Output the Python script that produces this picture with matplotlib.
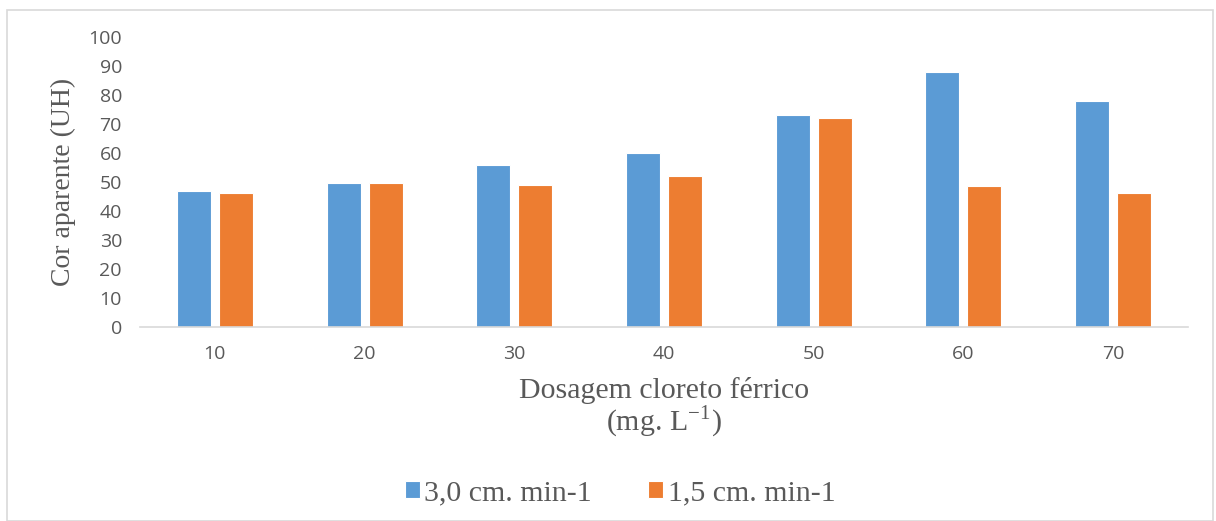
import matplotlib
matplotlib.use('Agg')
import matplotlib.pyplot as plt
import numpy as np

dosagem = [10, 20, 30, 40, 50, 60, 70]
vazao_30 = [47.0, 49.7, 55.7, 60.0, 73.2, 88.0, 78.0]
vazao_15 = [46.1, 49.7, 48.9, 52.2, 72.0, 48.5, 46.1]
series_labels = ['3,0 cm. min-1', '1,5 cm. min-1']

blue = '#5b9bd5'
orange = '#ed7d31'
grey_txt = '#595959'

plt.rcParams['mathtext.fontset'] = 'stix'

fig = plt.figure(figsize=(12.16, 5.21), dpi=100)
ax = fig.add_axes([140 / 1216, 1 - 327 / 521, 1048 / 1216, 290 / 521])

x = np.arange(len(dosagem))
w = 0.227
gap = 0.053
ax.bar(x - (w + gap) / 2, vazao_30, w, color=blue, edgecolor='white', linewidth=0.8, label=series_labels[0])
ax.bar(x + (w + gap) / 2, vazao_15, w, color=orange, edgecolor='white', linewidth=0.8, label=series_labels[1])

ax.set_xlim(-0.5, len(dosagem) - 0.5)
ax.set_ylim(0, 100)
ax.set_yticks(range(0, 101, 10))
ax.set_xticks(x)
ax.set_xticklabels([str(d) for d in dosagem])
ax.tick_params(axis='both', length=0, labelsize=14, colors=grey_txt, labelfontfamily='Open Sans')
ax.tick_params(axis='y', pad=13)
ax.tick_params(axis='x', pad=13)

for s in ['top', 'right', 'left']:
    ax.spines[s].set_visible(False)
ax.spines['bottom'].set_color('#d9d9d9')
ax.spines['bottom'].set_linewidth(1.2)

serif = 'Liberation Serif'
ax.set_ylabel('Cor aparente (UH)', fontsize=20, family=serif, color=grey_txt, labelpad=9)
ax.set_xlabel('Dosagem cloreto férrico\n(mg. L$^{\\mathregular{-1}}$)', fontsize=21.5, family=serif,
              color=grey_txt, labelpad=10, linespacing=1.0)

leg = fig.legend(loc='center', bbox_to_anchor=(620 / 1216, 1 - 493 / 521), ncol=2, frameon=False,
                 prop={'family': serif, 'size': 21.5}, handlelength=0.5, handleheight=0.5,
                 handletextpad=0.15, columnspacing=1.9, labelcolor=grey_txt)

border = plt.Rectangle((7 / 1216, 0), 1 - 10 / 1216, 1 - 10 / 521, transform=fig.transFigure,
                       fill=False, edgecolor='#d9d9d9', linewidth=1.2)
fig.patches.append(border)

fig.savefig('out.png', dpi=100)
